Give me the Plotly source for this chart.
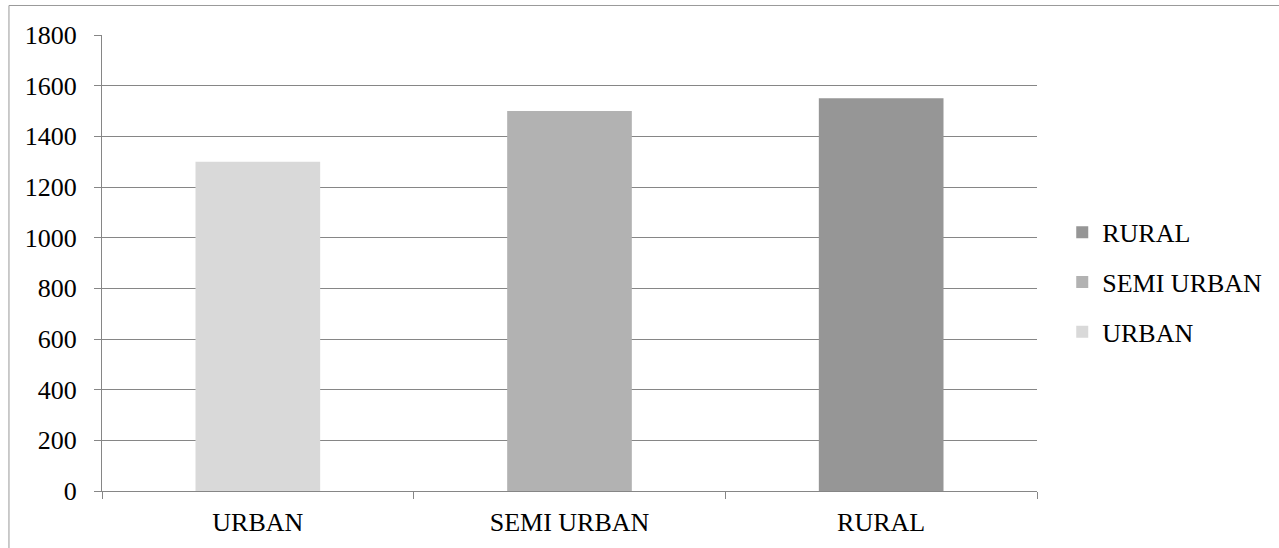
import plotly.graph_objects as go

categories = ["URBAN", "SEMI URBAN", "RURAL"]
values = [1300, 1500, 1550]
colors = ["#d9d9d9", "#b2b2b2", "#969696"]

FONT = "Liberation Serif, Times New Roman, serif"
SIZE = 26

fig = go.Figure()
# Added last-to-first so the legend lists RURAL on top
for cat, val, col in reversed(list(zip(categories, values, colors))):
    fig.add_trace(go.Bar(
        x=[cat], y=[val], name=cat, legendgroup=cat,
        marker=dict(color=col, line=dict(width=0)),
        width=0.4,
    ))

fig.update_layout(
    width=1279, height=548,
    margin=dict(l=102, r=242, t=34.5, b=57.3, pad=0),
    paper_bgcolor="white", plot_bgcolor="white",
    barmode="overlay",
    font=dict(family=FONT, size=SIZE, color="black"),
    showlegend=True,
    legend=dict(
        x=1.027, y=0.4577, xanchor="left", yanchor="middle",
        traceorder="grouped", tracegroupgap=13,
        font=dict(family=FONT, size=SIZE, color="black"),
        bgcolor="rgba(0,0,0,0)",
    ),
    xaxis=dict(
        type="category", categoryorder="array", categoryarray=categories,
        range=[-0.5, 2.5],
        showgrid=False, showline=True, linecolor="#868686", linewidth=1,
        ticks="outside", tickson="boundaries", ticklen=7, tickcolor="#868686",
        zeroline=False, ticklabelstandoff=8,
        tickfont=dict(family=FONT, size=SIZE, color="black"),
    ),
    yaxis=dict(
        range=[0, 1800], dtick=200, tick0=0,
        showgrid=True, gridcolor="#868686", gridwidth=1,
        showline=True, linecolor="#868686", linewidth=1,
        ticks="outside", ticklen=7, tickcolor="#868686",
        zeroline=False, ticklabelstandoff=12,
        tickfont=dict(family=FONT, size=SIZE, color="black"),
    ),
    shapes=[dict(
        type="rect", xref="paper", yref="paper",
        x0=-0.0995, x1=1.3, y0=-0.3, y1=1.0647,
        line=dict(color="#999999", width=1), fillcolor="rgba(0,0,0,0)",
        layer="below",
    )],
)

fig.write_html("out.html")
